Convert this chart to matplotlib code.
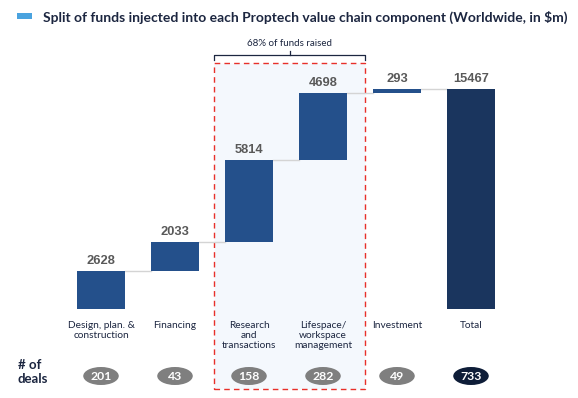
import matplotlib
matplotlib.use("Agg")
import matplotlib.pyplot as plt
import matplotlib.transforms as mtransforms
from matplotlib.patches import Rectangle, Ellipse
import numpy as np

# data
categories = ["Design, plan. &\nconstruction", "Financing", "Research\nand\ntransactions",
              "Lifespace/\nworkspace\nmanagement", "Investment", "Total"]
components = [2628, 2033, 5814, 4698, 293]
total = 15467
deals = [201, 43, 158, 282, 49, 733]

title = "Split of funds injected into each Proptech value chain component (Worldwide, in $m)"
bracket_text = "68% of funds raised"

NAVY_TXT = "#1c2640"
BAR = "#24508b"
BAR_TOTAL = "#1a355e"
LABEL_GRAY = "#595959"

W, H = 578, 398
fig = plt.figure(figsize=(W / 100, H / 100), dpi=100)

def fy(py):
    # pixel row from the top -> figure fraction
    return 1 - py / H

ax = fig.add_axes([64 / W, fy(308.5), (508 - 64) / W, (308.5 - 40) / H])
ax.set_xlim(-0.5, 5.5)
ax.set_ylim(0, 18920)
ax.axis("off")

x = np.arange(len(categories))
bottoms = np.concatenate([[0], np.cumsum(components)[:-1]])
heights = components + [total]
bottoms = list(bottoms) + [0]
colors = [BAR] * len(components) + [BAR_TOTAL]
bw = 0.65
ax.bar(x, heights, bottom=bottoms, width=bw, color=colors, zorder=3)

# connectors between steps
tops = [b + h for b, h in zip(bottoms, heights)]
for i in range(len(categories) - 1):
    ax.plot([x[i] + bw / 2, x[i + 1] - bw / 2], [tops[i], tops[i]],
            color="#d4d4d4", lw=1, zorder=2)

# value labels
for i, v in enumerate(heights):
    ax.annotate(str(v), (x[i], tops[i]), xytext=(0, 3), textcoords="offset points",
                ha="center", va="bottom", fontsize=9.3, fontweight="bold",
                color=LABEL_GRAY, family="Liberation Sans")

trans = mtransforms.blended_transform_factory(ax.transData, fig.transFigure)

# highlighted group box
box = Rectangle((1.527, fy(389)), 3.568 - 1.527, fy(63) - fy(389), transform=trans,
                facecolor="#f4f8fd", edgecolor="#e8302a", lw=1, ls=(0, (4, 3)),
                zorder=0, clip_on=False)
fig.add_artist(box)

# bracket above the box
xm = (1.527 + 3.568) / 2
fig.add_artist(plt.Line2D([1.527, 1.527, 3.568, 3.568], [fy(60), fy(55), fy(55), fy(60)],
                          transform=trans, color=NAVY_TXT, lw=0.9))
fig.add_artist(plt.Line2D([xm, xm], [fy(55), fy(51)], transform=trans, color=NAVY_TXT, lw=0.9))
fig.text(xm, fy(44), bracket_text, transform=trans, ha="center", va="center",
         fontsize=7, color=NAVY_TXT, family="Lato")

# category labels
for i, c in enumerate(categories):
    fig.text(x[i], fy(320.5), c, transform=trans, ha="center", va="top", fontsize=7.3,
             color=NAVY_TXT, family="Lato", linespacing=1.15)

# deals row
fig.text(18 / W, fy(372), "# of\ndeals", ha="left", va="center", fontsize=9.5,
         fontweight="bold", color=NAVY_TXT, family="Lato", linespacing=1.2)
for i, d in enumerate(deals):
    fc = "#0e1d38" if i == len(deals) - 1 else "#7f7f7f"
    fig.add_artist(Ellipse((x[i], fy(376)), 0.48, 18 / H, transform=trans,
                           facecolor=fc, edgecolor="none"))
    fig.text(x[i], fy(376), str(d), transform=trans, ha="center", va="center",
             fontsize=8.8, fontweight="bold", color="white", family="Lato")

# title with legend marker
fig.add_artist(Rectangle((17 / W, fy(19)), 15 / W, 6 / H, transform=fig.transFigure,
                         facecolor="#4aa3df", edgecolor="none"))
fig.text(43 / W, fy(17), title, ha="left", va="center", fontsize=10,
         fontweight="bold", color=NAVY_TXT, family="Lato")

fig.savefig("out.png", dpi=100)
